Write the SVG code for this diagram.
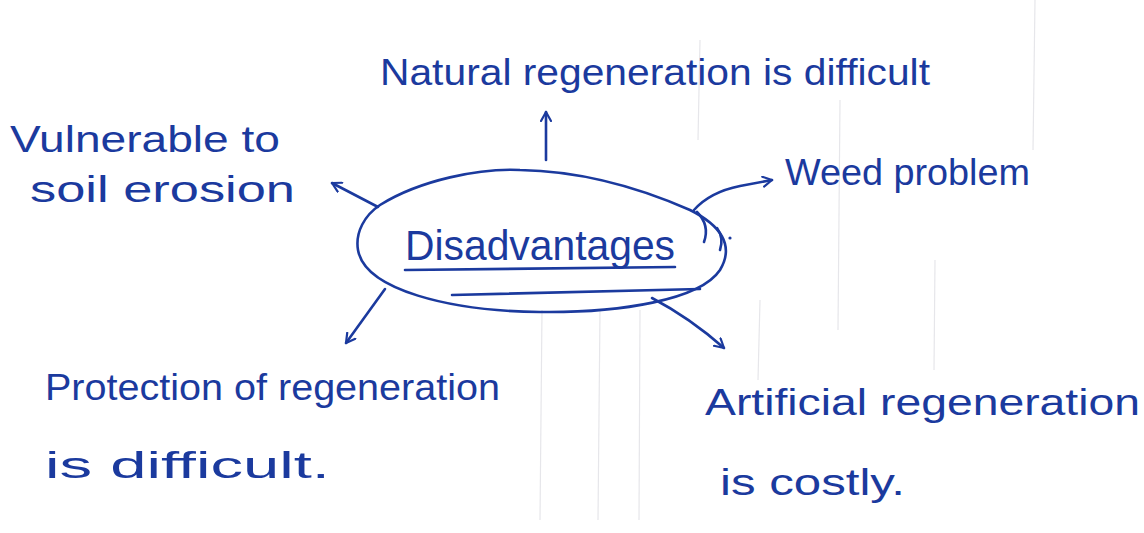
<svg xmlns="http://www.w3.org/2000/svg" width="1144" height="533" viewBox="0 0 1144 533">
  <style>
    .ink { fill: #1b3a9e; font-family: "Liberation Sans", "DejaVu Sans", sans-serif; }
    .label { font-size: 36px; }
    .title { font-size: 42px; }
    .stroke { fill: none; stroke: #1b3a9e; stroke-width: 2.6; stroke-linecap: round; stroke-linejoin: round; }
    .rule { stroke: #e6e6ea; stroke-width: 1.2; }
  </style>
  <defs>
    <marker id="head" viewBox="0 0 12 12" refX="10" refY="6" markerWidth="12" markerHeight="12" markerUnits="userSpaceOnUse" orient="auto">
      <path d="M1,1 L10,6 L1,11" fill="none" stroke="#1b3a9e" stroke-width="2.2" stroke-linecap="round" stroke-linejoin="round"/>
    </marker>
  </defs>
  <rect width="1144" height="533" fill="#ffffff"/>

  <!-- faint notebook ruling -->
  <g id="ruling">
    <line class="rule" x1="542" y1="310" x2="540" y2="520"/>
    <line class="rule" x1="600" y1="310" x2="598" y2="520"/>
    <line class="rule" x1="640" y1="310" x2="639" y2="520"/>
    <line class="rule" x1="700" y1="40" x2="698" y2="140"/>
    <line class="rule" x1="760" y1="300" x2="758" y2="380"/>
    <line class="rule" x1="840" y1="100" x2="838" y2="330"/>
    <line class="rule" x1="935" y1="260" x2="934" y2="370"/>
    <line class="rule" x1="1035" y1="0" x2="1033" y2="150"/>
  </g>

  <!-- connectors -->
  <g id="connectors">
    <line class="stroke" x1="546" y1="160" x2="546" y2="112" marker-end="url(#head)"/>
    <line class="stroke" x1="378" y1="207" x2="332" y2="183" marker-end="url(#head)"/>
    <path class="stroke" d="M694,210 Q710,192 740,186 L772,180" marker-end="url(#head)"/>
    <line class="stroke" x1="385" y1="289" x2="346" y2="343" marker-end="url(#head)"/>
    <path class="stroke" d="M652,298 Q690,318 724,348" marker-end="url(#head)"/>
    <!-- small stray marks beside the centre -->
    <path class="stroke" d="M697,212 Q710,225 704,242" stroke-width="2"/>
    <path class="stroke" d="M717,228 Q724,238 720,250" stroke-width="2"/>
    <circle cx="730" cy="238" r="1.6" fill="#1b3a9e"/>
  </g>

  <!-- centre node -->
  <g id="node-disadvantages">
    <path class="stroke" d="M380,205 C420,180 480,168 520,170 C580,171 640,188 690,210 C720,225 735,245 720,270 C700,300 620,313 540,312 C450,311 365,290 358,250 C355,232 365,215 380,205 Z"/>
    <text class="ink title" x="405" y="260" textLength="270" lengthAdjust="spacingAndGlyphs">Disadvantages</text>
    <line class="stroke" x1="405" y1="270" x2="675" y2="267"/>
    <line class="stroke" x1="452" y1="295" x2="700" y2="289"/>
  </g>

  <g id="node-natural">
    <text class="ink label" x="380" y="85" textLength="550" lengthAdjust="spacingAndGlyphs">Natural regeneration is difficult</text>
  </g>

  <g id="node-erosion">
    <text class="ink label" x="10" y="152" textLength="270" lengthAdjust="spacingAndGlyphs">Vulnerable to</text>
    <text class="ink label" x="30" y="202" textLength="265" lengthAdjust="spacingAndGlyphs">soil erosion</text>
  </g>

  <g id="node-weed">
    <text class="ink label" x="785" y="185" textLength="245" lengthAdjust="spacingAndGlyphs">Weed problem</text>
  </g>

  <g id="node-protection">
    <text class="ink label" x="45" y="400" textLength="455" lengthAdjust="spacingAndGlyphs">Protection of regeneration</text>
    <text class="ink label" x="45" y="478" textLength="285" lengthAdjust="spacingAndGlyphs">is difficult.</text>
  </g>

  <g id="node-artificial">
    <text class="ink label" x="705" y="415" textLength="435" lengthAdjust="spacingAndGlyphs">Artificial regeneration</text>
    <text class="ink label" x="720" y="495" textLength="185" lengthAdjust="spacingAndGlyphs">is costly.</text>
  </g>
</svg>
